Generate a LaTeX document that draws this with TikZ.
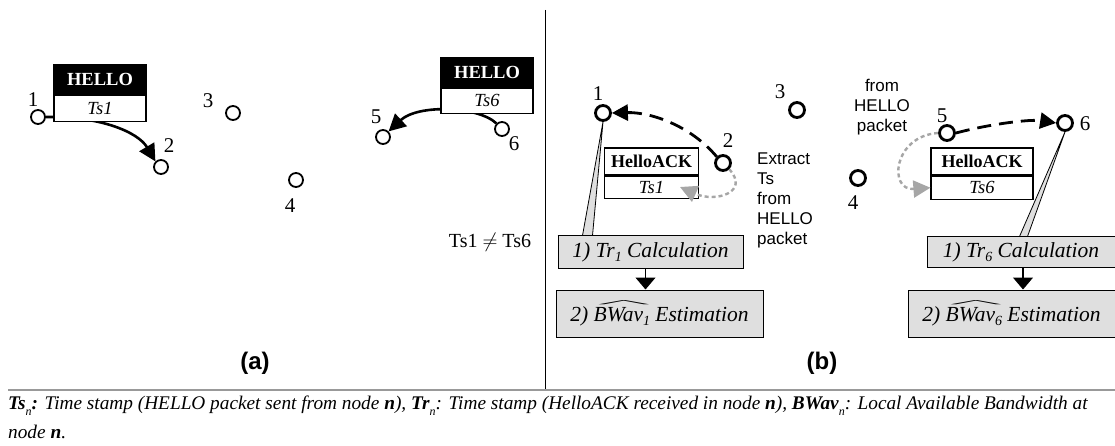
\documentclass[tikz,border=0pt]{standalone}
\usepackage{fontspec}
\usepackage{graphicx}
\setmainfont{Liberation Serif}
\setsansfont{Liberation Sans}
\usetikzlibrary{arrows.meta,calc}
\newcommand{\fs}[1]{\fontsize{#1}{#1}\selectfont}
\newcommand{\lowsub}[1]{\raisebox{-4pt}{\fs{14}#1}}
\newcommand{\capsub}[1]{\raisebox{-6pt}{\fs{12}\textit{#1}}}
% wide hat stretched over a whole word
\newsavebox{\hatbox}
\newcommand{\widehatword}[1]{\sbox{\hatbox}{#1}%
  \rlap{\raisebox{\dimexpr\ht\hatbox+1pt\relax}{\hspace{1pt}\resizebox{\dimexpr\wd\hatbox-1pt\relax}{6pt}{\textasciicircum}}}\usebox{\hatbox}}
\begin{document}
\begin{tikzpicture}[x=1pt,y=-1pt,
  dotA/.style={circle,draw,line width=1.8,minimum size=14,inner sep=0,fill=white},
  dotB/.style={circle,draw,line width=2.8,minimum size=15,inner sep=0,fill=white},
  num/.style={font=\fs{21},inner sep=0},
  hdr/.style={draw,line width=1.2,fill=black,text=white,font=\bfseries\fs{18.5},inner sep=0,minimum width=92},
  ackhdr/.style={draw,line width=1.2,fill=white,font=\bfseries\fs{18},inner sep=0,minimum width=94,minimum height=27},
  row/.style={draw,line width=1.2,fill=white,font=\itshape\fs{18.5},inner sep=0},
  calc/.style={draw,line width=1,fill=gray!25,font=\itshape\fs{21.5},inner sep=0},
  wedge/.style={fill=gray!25,draw=black,line width=0.8},
  arr/.style={line width=2.6,-{Triangle[length=17,width=17]}},
  darr/.style={line width=2.8,dash pattern=on 14pt off 8pt,-{Triangle[length=16,width=16]}},
  garr/.style={gray!70,line width=2.4,dash pattern=on 4pt off 3pt,-{Triangle[length=17,width=17]}},
  downarr/.style={line width=1.2,-{Triangle[length=12,width=20]}},
  side/.style={font=\sffamily\fs{17},inner sep=0},
  panel/.style={font=\sffamily\bfseries\fs{24},inner sep=0}
]
\useasboundingbox (0,0) rectangle (1115,446);

% frame lines
\draw[line width=1.5] (545.5,10) -- (545.5,390);
\draw[gray!80,line width=1.6] (8,390) -- (1115,390);

% ---------- panel (a) ----------
\node[dotA] (a1) at (38,117) {};
\node[dotA] (a2) at (161,167) {};
\node[dotA] (a3) at (233,113) {};
\node[dotA] (a4) at (296,180) {};
\node[dotA] (a5) at (383,137) {};
\node[dotA] (a6) at (502,129) {};
\node[num] at (33,100) {1};
\node[num] at (169,146) {2};
\node[num] at (208,101) {3};
\node[num] at (290,206) {4};
\node[num] at (376,117) {5};
\node[num] at (514,144) {6};

\draw[arr] (a1.east) .. controls (100,116) and (138,132) .. (a2.north west);
\draw[arr] (a6.north west) .. controls (478,106) and (418,104) .. (a5.north east);

\node[hdr,minimum height=29] (h1) at (100,79.5) {HELLO};
\node[row,minimum width=92,minimum height=26,anchor=north] (s1) at (h1.south) {Ts1};
\draw[line width=1.8] (a1.east) -- (a1.east -| s1.west);

\node[hdr,minimum height=29] (h6) at (487,72.5) {HELLO};
\node[row,minimum width=92,minimum height=25,anchor=north] (s6) at (h6.south) {Ts6};

\node[font=\fs{20},inner sep=0] (neq) at (490,242) {Ts1 $\neq$ Ts6};
\node[panel] (pa) at (255,363) {(a)};

% ---------- panel (b) ----------
\node[dotB] (b1) at (603,113) {};
\node[dotB] (b2) at (723,163) {};
\node[dotB] (b3) at (797,110) {};
\node[dotB] (b4) at (858,178) {};
\node[dotB] (b5) at (947,133) {};
\node[dotB] (b6) at (1065,123) {};
\node[num] at (598,94) {1};
\node[num] at (728,141) {2};
\node[num] at (780,92) {3};
\node[num] at (853,203) {4};
\node[num] at (942,116) {5};
\node[num] at (1085,124) {6};

\draw[darr] (b2.north west) .. controls (690,125) and (650,112) .. (b1.east);
\draw[darr] (b5.east) .. controls (990,124) and (1030,119) .. (b6.west);

% callout wedges and computation boxes
\node[calc,minimum width=185,minimum height=32] (c1) at (650.5,252) {1) Tr\lowsub{1} Calculation};
\node[calc,minimum width=188,minimum height=30] (c6) at (1021,252) {1) Tr\lowsub{6} Calculation};
\filldraw[wedge] (b1.south) -- ($(c1.north west)+(25,0)$) -- ($(c1.north west)+(35,0)$) -- cycle;
\filldraw[wedge] (b6.south) -- ($(c6.north west)+(93,0)$) -- ($(c6.north west)+(101,0)$) -- cycle;
\draw[line width=1] (c1.north west) -- (c1.north east);
\draw[line width=1] (c6.north west) -- (c6.north east);

\node[calc,minimum width=207,minimum height=47] (d1) at (659.5,313.5)
  {2) \widehatword{BWav}\lowsub{1} Estimation};
\node[calc,minimum width=207,minimum height=47] (d6) at (1011.5,313.5)
  {2) \widehatword{BWav}\lowsub{6} Estimation};
\draw[downarr] ($(c1.south)+(-5,0)$) -- ($(c1.south |- d1.north)+(-5,0)$);
\draw[downarr] ($(c6.south)+(2,0)$) -- ($(c6.south |- d6.north)+(2,0)$);

% HelloACK packets
\node[ackhdr] (k1) at (651.5,161.5) {HelloACK};
\node[row,minimum width=94,minimum height=22,anchor=north] (r1) at (k1.south) {Ts1};
\node[ackhdr,minimum width=102] (k6) at (982,161.5) {HelloACK};
\node[row,minimum width=102,minimum height=23,anchor=north] (r6) at (k6.south) {Ts6};

% timestamp extraction
\coordinate (g1) at (680,187);
\draw[garr] (b2.south east) .. controls (750,192) and (716,203) .. (g1);
\draw[garr] (b5.west) .. controls (893,136) and (888,191) .. (r6.west);

\node[side,align=left,anchor=north west,font=\sffamily\fontsize{17}{20}\selectfont] (ex) at (757,153)
  {Extract\\Ts\\from\\HELLO\\packet};
\node[side,align=center,font=\sffamily\fontsize{17}{20}\selectfont] (fr) at (882,107)
  {from\\HELLO\\packet};

\node[panel] (pb) at (822,363) {(b)};

% legend
\node[anchor=west,inner sep=0,font=\itshape\fs{19.3}] (l1) at (8,406)
  {\textbf{Ts}\capsub{n}\textbf{:} Time stamp (HELLO packet sent from node \textbf{n}), \textbf{Tr}\capsub{n}: Time stamp (HelloACK received in node \textbf{n}), \textbf{BWav}\capsub{n}: Local Available Bandwidth at};
\node[anchor=west,inner sep=0,font=\itshape\fs{19.3}] (l2) at (8,432) {node \textbf{n}.};
\end{tikzpicture}
\end{document}
